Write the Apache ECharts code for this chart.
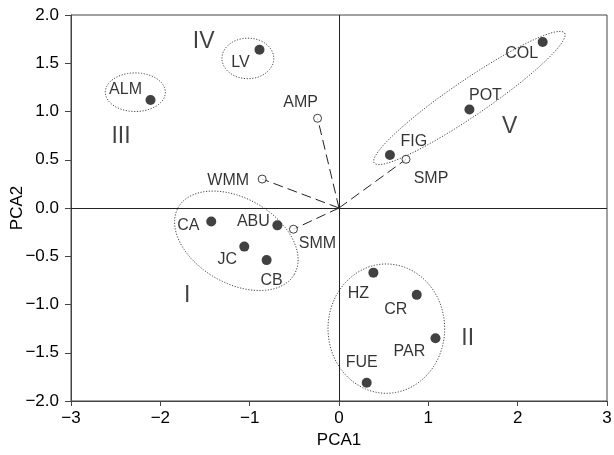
<!DOCTYPE html>
<html>
<head>
<meta charset="utf-8">
<script src="https://cdn.jsdelivr.net/npm/echarts@6/dist/echarts.min.js"></script>
<style>
  html, body { margin: 0; padding: 0; background: #fff; }
  #chart { width: 614px; height: 455px; }
</style>
</head>
<body>
<div id="chart"></div>
<script>
// sites (filled) scores on PCA1 / PCA2
const siteNames = ['COL', 'POT', 'FIG', 'LV', 'ALM', 'CA', 'ABU', 'JC', 'CB', 'HZ', 'CR', 'PAR', 'FUE'];
const siteX = [2.28, 1.46, 0.57, -0.89, -2.11, -1.43, -0.69, -1.06, -0.81, 0.385, 0.87, 1.08, 0.31];
const siteY = [1.72, 1.02, 0.55, 1.64, 1.12, -0.14, -0.18, -0.40, -0.54, -0.67, -0.90, -1.35, -1.81];

// variable loadings (open circles)
const varNames = ['AMP', 'SMP', 'WMM', 'SMM'];
const varX = [-0.24, 0.75, -0.86, -0.51];
const varY = [0.93, 0.505, 0.30, -0.22];

// group numerals
const groupNames = ['I', 'II', 'III', 'IV', 'V'];
const groupX = [-1.70, 1.44, -2.44, -1.515, 1.91];
const groupY = [-0.906, -1.355, 0.74, 1.72, 0.84];

const xTicks = [-3, -2, -1, 0, 1, 2, 3];
const yTicks = [-2.0, -1.5, -1.0, -0.5, 0.0, 0.5, 1.0, 1.5, 2.0];

// label offsets (px) from each point
const siteLabelOffsets = [[-21, 12], [16, -14], [24, -13], [-19, 13], [-25, -10], [-23, 4], [-24, -4],
  [-17, 13], [5, 20], [-15, 21], [-21, 15], [-26, 13], [-5, -20]];
const varLabelOffsets = [[-17, -16], [25, 19], [-34, 2], [24, 14]];

// ellipses round the groups: centre x, centre y, semi-axis (x units), semi-axis (y units), rotation deg
const ellipses = [
  [-1.149, -0.34, 0.75, 0.44, -30],
  [0.53, -1.25, 0.653, 0.67, 0],
  [-2.28, 1.20, 0.336, 0.20, 0],
  [-1.02, 1.55, 0.29, 0.21, 0],
  [1.46, 1.14, 1.29, 0.185, 34.3]
];

const font = '"Liberation Sans", Arial, Helvetica, sans-serif';
const minus = s => String(s).replace('-', '\u2212');

const chart = echarts.init(document.getElementById('chart'));

const siteData = siteNames.map((n, i) => ({
  name: n,
  value: [siteX[i], siteY[i]],
  label: { offset: siteLabelOffsets[i] }
}));
const varData = varNames.map((n, i) => ({
  name: n,
  value: [varX[i], varY[i]],
  label: { offset: varLabelOffsets[i] }
}));
const vectorData = varNames.map((n, i) => ({ coords: [[0, 0], [varX[i], varY[i]]] }));
const groupData = groupNames.map((n, i) => ({ name: n, value: [groupX[i], groupY[i]] }));

const pointLabel = {
  show: true,
  position: 'inside',
  formatter: '{b}',
  fontFamily: font,
  fontSize: 16,
  color: '#000',
  textBorderWidth: 0,
  align: 'center',
  verticalAlign: 'middle'
};

const option = {
  animation: false,
  backgroundColor: '#fff',
  grid: {
    left: 71, right: 7, top: 15, bottom: 54,
    outerBoundsMode: 'none',
    containLabel: false,
    show: true, borderColor: '#444', borderWidth: 1, backgroundColor: 'transparent'
  },
  xAxis: {
    type: 'value', min: -3, max: 3, interval: 1,
    name: 'PCA1', nameLocation: 'middle', nameGap: 31, nameMoveOverlap: false,
    nameTextStyle: { fontFamily: font, fontSize: 17, color: '#000' },
    axisLine: { onZero: false, lineStyle: { color: '#444', width: 1 } },
    axisTick: { show: true, length: 5, lineStyle: { color: '#444' } },
    axisLabel: { fontFamily: font, fontSize: 17, color: '#000', margin: 9, formatter: v => minus(v) },
    splitLine: { show: false }
  },
  yAxis: {
    type: 'value', min: -2, max: 2, interval: 0.5,
    name: 'PCA2', nameLocation: 'middle', nameGap: 45, nameMoveOverlap: false,
    nameTextStyle: { fontFamily: font, fontSize: 17, color: '#000' },
    axisLine: { onZero: false, lineStyle: { color: '#444', width: 1 } },
    axisTick: { show: true, length: 6, lineStyle: { color: '#444' } },
    axisLabel: { fontFamily: font, fontSize: 17, color: '#000', margin: 12, formatter: v => minus(v.toFixed(1)) },
    splitLine: { show: false }
  },
  series: [
    {
      // zero lines
      type: 'line',
      data: [],
      markLine: {
        silent: true,
        symbol: ['none', 'none'],
        label: { show: false },
        lineStyle: { type: 'solid', color: '#222', width: 1 },
        data: [{ xAxis: 0 }, { yAxis: 0 }]
      }
    },
    {
      type: 'custom',
      silent: true,
      data: ellipses,
      renderItem: function (params, api) {
        const c = api.coord([api.value(0), api.value(1)]);
        const a = api.size([api.value(2), 0])[0];
        const b = api.size([0, api.value(3)])[1];
        const rot = -api.value(4) * Math.PI / 180;
        const pts = [];
        for (let k = 0; k <= 120; k++) {
          const t = k / 120 * Math.PI * 2;
          const ex = a * Math.cos(t), ey = b * Math.sin(t);
          pts.push([c[0] + ex * Math.cos(rot) - ey * Math.sin(rot), c[1] + ex * Math.sin(rot) + ey * Math.cos(rot)]);
        }
        return {
          type: 'polygon',
          shape: { points: pts },
          style: { fill: 'none', stroke: '#444', lineWidth: 1, lineDash: [1.2, 1.6] }
        };
      }
    },
    {
      type: 'lines',
      coordinateSystem: 'cartesian2d',
      silent: true,
      data: vectorData,
      lineStyle: { color: '#222', width: 1, type: [10, 5], opacity: 1 }
    },
    {
      type: 'scatter',
      data: siteData,
      symbol: 'circle',
      symbolSize: 10,
      itemStyle: { color: '#111' },
      label: pointLabel
    },
    {
      type: 'scatter',
      data: varData,
      symbol: 'circle',
      symbolSize: 8,
      itemStyle: { color: '#fff', borderColor: '#111', borderWidth: 1 },
      label: pointLabel
    },
    {
      type: 'scatter',
      data: groupData,
      symbolSize: 1,
      itemStyle: { color: 'transparent' },
      label: {
        show: true, position: 'inside', formatter: '{b}',
        fontFamily: font, fontSize: 23, color: '#111', textBorderWidth: 0
      }
    }
  ]
};

chart.setOption(option);
window.addEventListener('resize', function () { chart.resize(); });
</script>
</body>
</html>
